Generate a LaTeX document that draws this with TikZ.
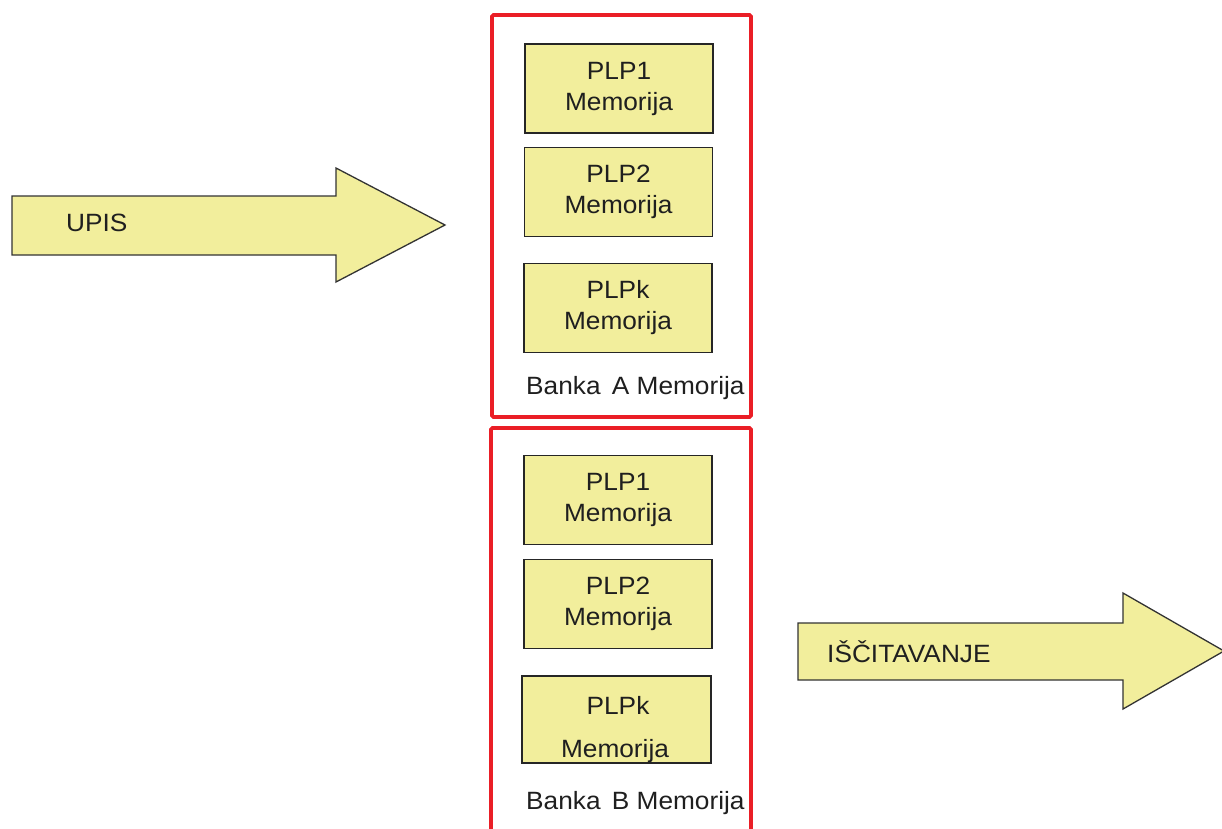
\documentclass[tikz,border=0pt]{standalone}
\usepackage{fontspec}
\setmainfont[FakeStretch=1.05]{Liberation Sans}
\begin{document}
\begin{tikzpicture}[x=1pt,y=-1pt,
  font=\fontsize{25}{31}\selectfont,
  every node/.style={text=black!88},
  membox/.style={draw=black!85,line width=1.4pt,fill=memyellow,
    minimum width=188pt,minimum height=89pt,inner sep=0pt,align=center},
  bankframe/.style={draw=bankred,line width=3.6pt,rounded corners=1.5pt},
  flowarrow/.style={draw=black!80,line width=1.3pt,fill=memyellow,line join=miter},
  caption/.style={anchor=west,inner sep=0pt}]
\definecolor{memyellow}{RGB}{242,238,156}
\definecolor{bankred}{RGB}{234,30,38}
\useasboundingbox (0,0) rectangle (1222,828);
\clip (0,0) rectangle (1222,828);

% bank A
\draw[bankframe] (492,15) rectangle (751,417);
\node[membox] (a1) at (619,88.5) {PLP1\\Memorija};
\node[membox] (a2) at (618.5,192) {PLP2\\Memorija};
\node[membox] (ak) at (618,308) {PLPk\\Memorija};
\node[caption] (capa) at (526,388) {Banka\hspace{0.45em}A Memorija};

% bank B
\draw[bankframe] (491,428) rectangle (751,840);
\node[membox] (b1) at (618,500) {PLP1\\Memorija};
\node[membox] (b2) at (618,604) {PLP2\\Memorija};
\node[membox,minimum width=189pt,minimum height=87pt] (bk) at (616.5,719.5) {};
\node (bkt) at (618,705) {PLPk};
\node (bkm) at (615,751) {Memorija};
\node[caption] (capb) at (526,803) {Banka\hspace{0.45em}B Memorija};

% write arrow
\draw[flowarrow] (12,196) -- (336,196) -- (336,168) -- (445,225)
  -- (336,282) -- (336,255) -- (12,255) -- cycle;
\node[caption] (upis) at (66,223) {UPIS};

% read-out arrow
\draw[flowarrow] (798,623) -- (1123,623) -- (1123,593) -- (1224,651)
  -- (1123,709) -- (1123,680) -- (798,680) -- cycle;
\node[caption] (read) at (827,652) {IŠČITAVANJE};
\end{tikzpicture}
\end{document}
